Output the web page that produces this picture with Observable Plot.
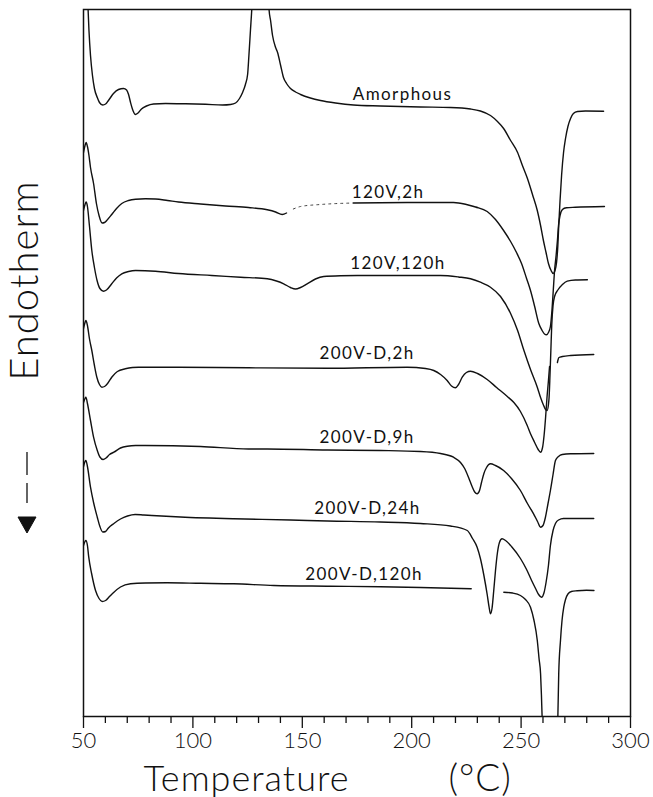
<!DOCTYPE html>
<html>
<head>
<meta charset="utf-8">
<script src="https://cdn.jsdelivr.net/npm/d3@7"></script>
<script src="https://cdn.jsdelivr.net/npm/@observablehq/plot@0.6"></script>
<style>
  html, body { margin: 0; padding: 0; background: #fff; }
  #chart svg { display: block; }
  .curve-label text { letter-spacing: 1.4px; }
  .wide-title text { letter-spacing: 1px; }
</style>
</head>
<body>
<div id="chart"></div>
<script>
// DSC heating scans: [temperature °C, heat flow (arbitrary units, traces offset vertically)]
const amorphous = [[51.6,73.6],[52.1,70.7],[52.5,68.6],[53.2,66.1],[54.1,64.1],[55.0,62.8],[56.3,61.9],[57.3,61.4],[58.8,61.15],[60.1,61.25],[61.4,61.6],[63.7,62.3],[66.0,62.7],[68.3,62.8],[69.7,62.65],[70.6,62.2],[71.5,61.4],[72.6,60.6],[73.7,60.2],[74.9,60.35],[76.5,60.75],[78.8,61.05],[82.0,61.25],[87.5,61.3],[96.6,61.27],[105.8,61.22],[113.6,61.15],[117.2,61.2],[119.5,61.35],[121.3,61.8],[122.7,62.4],[124.0,63.2],[125.0,64.2],[125.6,66.1],[126.3,68.6],[127.0,71.1],[127.5,73.6],[130.9,86.6],[134.3,73.6],[134.8,70.7],[135.5,69.6],[136.4,68.1],[137.8,66.9],[138.7,66.4],[140.1,65.1],[141.4,63.9],[142.8,63.3],[144.6,62.8],[146.9,62.45],[149.2,62.2],[153.7,61.85],[158.3,61.6],[165.2,61.35],[173.4,61.15],[185.7,61.05],[204.0,60.95],[217.7,60.9],[226.9,60.75],[231.4,60.55],[236.0,60.1],[239.2,59.5],[242.0,58.8],[245.2,57.6],[248.4,56.4],[250.6,55.1],[252.9,53.8],[255.2,52.2],[257.4,50.6],[258.9,49.1],[260.2,47.6],[261.4,46.4],[262.5,45.3],[263.7,44.6],[264.7,44.3],[265.5,44.6],[266.2,45.4],[266.8,47.1],[267.2,49.1],[267.8,51.6],[268.5,54.1],[269.4,56.4],[270.3,57.8],[271.4,59.0],[272.6,59.8],[273.9,60.3],[275.8,60.5],[279.4,60.55],[287.7,60.53]];

const v120_2h = [[50.0,56.4],[50.7,57.1],[51.2,57.4],[51.8,57.0],[52.5,56.1],[53.2,54.9],[54.6,53.3],[55.9,51.3],[57.1,50.1],[58.5,49.35],[59.6,49.4],[61.0,49.7],[62.9,50.2],[65.1,50.8],[67.5,51.3],[70.6,51.6],[73.8,51.73],[78.3,51.78],[82.9,51.75],[88.4,51.6],[93.4,51.45],[103.5,51.25],[114.9,51.05],[125.4,50.9],[134.0,50.67],[137.8,50.45],[140.8,50.2],[142.8,50.35],[145.9,50.75],[149.2,51.0],[158.3,51.2],[173.4,51.35],[197.9,51.4],[219.1,51.4],[225.0,51.2],[229.2,50.95],[234.5,50.5],[238.3,49.7],[242.0,48.6],[245.2,47.5],[247.9,46.4],[250.2,45.3],[252.5,43.8],[254.3,42.6],[256.2,41.0],[258.1,39.3],[259.6,38.6],[260.7,38.25],[261.6,38.17],[262.5,38.4],[263.4,39.0],[264.1,40.6],[264.7,42.6],[265.3,44.6],[266.0,46.1],[266.6,47.6],[267.1,49.1],[267.8,50.1],[268.9,50.7],[270.7,50.87],[274.8,50.92],[288.1,51.0]];

const v120_120h = [[50.0,50.6],[50.7,51.2],[51.2,51.45],[51.8,51.0],[52.7,49.1],[53.8,46.6],[55.0,44.9],[56.2,43.6],[57.5,42.8],[59.1,42.53],[60.5,42.65],[62.9,43.27],[65.1,43.85],[67.5,44.27],[70.6,44.5],[73.8,44.6],[82.9,44.53],[93.4,44.3],[108.6,44.1],[121.8,43.93],[134.0,43.77],[138.2,43.55],[141.5,43.27],[144.6,42.9],[146.9,42.75],[149.2,42.9],[152.2,43.27],[156.0,43.75],[159.8,44.0],[167.5,44.08],[175.1,44.1],[194.9,44.1],[213.2,44.1],[221.4,43.95],[226.9,43.77],[231.4,43.43],[236.0,42.93],[240.6,42.0],[245.2,40.3],[248.4,38.6],[251.3,36.6],[254.3,34.7],[257.4,32.93],[258.9,31.9],[260.3,31.1],[261.2,30.7],[261.9,30.6],[262.5,31.2],[262.8,31.93],[263.2,34.1],[263.6,36.6],[264.0,39.1],[264.6,41.1],[265.3,42.0],[266.8,42.65],[268.9,43.2],[271.1,43.53],[274.8,43.65],[280.3,43.67]];

const v200D_2h = [[50.0,38.8],[50.7,39.4],[51.1,39.6],[51.8,39.1],[52.7,37.8],[53.8,36.6],[55.0,35.1],[56.1,33.93],[57.3,33.2],[58.4,32.93],[59.6,33.0],[61.0,33.3],[62.9,33.93],[65.5,34.5],[69.1,34.77],[72.4,34.9],[75.1,34.93],[93.4,34.93],[125.4,34.87],[161.4,34.83],[197.9,34.93],[206.3,34.8],[210.1,34.6],[213.2,34.2],[216.2,33.6],[218.2,33.05],[220.0,32.87],[221.4,33.2],[223.1,33.93],[225.0,34.4],[226.9,34.53],[230.1,34.3],[234.5,33.7],[238.8,32.9],[243.7,32.0],[246.7,31.4],[249.7,30.5],[252.8,29.1],[254.3,28.27],[256.2,27.4],[257.8,26.7],[258.9,26.43],[259.8,26.9],[260.5,28.1],[261.2,29.93],[261.8,31.8],[262.5,33.6],[263.0,35.0],[264.5,null],[266.6,35.4],[266.8,35.6],[267.3,35.9],[268.9,36.0],[272.6,36.1],[283.2,36.2]];

const v200D_9h = [[50.0,31.4],[50.7,31.8],[51.1,31.93],[51.8,31.3],[53.2,29.6],[54.6,27.93],[56.3,26.6],[57.5,25.95],[59.0,25.7],[60.3,25.85],[61.9,26.2],[63.9,26.43],[66.9,26.85],[70.0,27.03],[73.8,27.1],[78.2,27.1],[103.5,27.0],[125.4,26.75],[134.0,26.75],[161.4,26.65],[185.7,26.6],[204.0,26.5],[213.2,26.3],[219.1,25.93],[222.3,25.4],[224.2,24.8],[226.0,23.9],[227.6,23.0],[228.8,22.45],[229.9,22.27],[231.0,22.6],[231.9,23.4],[233.0,24.3],[234.2,24.9],[236.0,25.27],[238.3,25.1],[242.0,24.6],[245.6,23.8],[249.7,22.6],[252.9,21.3],[255.7,20.27],[257.5,19.5],[258.9,18.93],[260.0,19.1],[261.1,19.9],[262.3,21.3],[263.4,22.6],[264.6,24.2],[265.7,25.6],[267.1,26.0],[268.8,26.2],[272.6,26.27],[283.2,26.3]];

const v200D_24h = [[50.0,25.0],[50.7,25.5],[51.1,25.6],[51.8,25.0],[53.2,22.93],[54.6,21.4],[56.3,19.93],[57.5,19.0],[58.8,18.45],[60.1,18.5],[61.4,18.85],[63.9,19.3],[66.9,19.75],[70.1,20.05],[73.6,20.2],[77.6,20.15],[94.3,19.95],[118.7,19.77],[144.6,19.65],[161.4,19.55],[185.7,19.45],[204.0,19.3],[217.7,19.05],[225.4,18.6],[227.8,17.8],[229.9,16.93],[231.4,15.8],[233.0,14.1],[234.5,12.2],[235.4,10.9],[236.0,10.27],[236.7,10.8],[237.5,12.6],[238.3,14.6],[239.2,16.4],[240.1,17.4],[241.3,17.77],[242.9,17.6],[245.6,17.0],[249.7,15.8],[252.5,14.7],[254.8,13.6],[256.6,12.8],[258.0,12.2],[259.3,11.93],[260.5,12.4],[261.4,13.4],[262.5,15.1],[263.4,17.1],[264.6,18.6],[265.7,19.3],[267.1,19.65],[269.4,19.8],[283.2,19.8]];

const v200D_120h = [[50.0,17.1],[50.7,17.5],[51.1,17.6],[51.8,17.1],[52.4,15.93],[53.7,14.3],[55.5,12.6],[57.1,11.8],[58.5,11.5],[60.1,11.6],[61.9,12.0],[63.9,12.43],[66.9,12.95],[71.5,13.27],[78.3,13.35],[88.3,13.37],[103.5,13.32],[118.7,13.27],[137.0,13.1],[162.9,13.03],[185.7,12.97],[204.0,12.9],[227.2,12.77],[235.0,null],[242.1,12.43],[246.1,12.35],[249.7,12.1],[252.0,11.7],[254.3,10.93],[255.9,9.6],[257.4,7.6],[258.2,5.8],[258.9,4.27],[259.3,2.1],[259.6,0],[260.2,-2.4],[263.2,-4.4],[266.2,-2.4],[266.8,0],[267.2,4.3],[268.0,7.6],[268.7,9.6],[269.5,10.93],[270.3,11.7],[271.4,12.25],[273.0,12.5],[275.6,12.57],[279.9,12.62],[283.3,12.6]];

// Trace names and where each name is written
const traceNames  = ["Amorphous", "120V,2h", "120V,120h", "200V-D,2h", "200V-D,9h", "200V-D,24h", "200V-D,120h"];
const traceData   = [amorphous, v120_2h, v120_120h, v200D_2h, v200D_9h, v200D_24h, v200D_120h];
const labelTemp   = [195.8, 189.2, 193.7, 179.6, 179.6, 179.8, 178.2];
const labelSignal = [62.2, 52.4, 45.3, 36.3, 27.9, 20.8, 14.2];

// Pen skipped over this stretch of the 120V,2h trace
const faintSpan = [144.6, 172.0];

// Temperature axis ticks
const majorTicks = [50, 100, 150, 200, 250, 300];
const minorTicks = [60, 70, 80, 90, 110, 120, 130, 140, 160, 170, 180, 190, 210, 220, 230, 240, 260, 270, 280, 290];

const rows = traceData.flatMap((pts, i) =>
  pts.map(([T, q]) => ({name: traceNames[i], T, q}))
);
const isFaint = d => d.name === "120V,2h" && d.T > faintSpan[0] && d.T < faintSpan[1];
const solidRows = rows.map(d => isFaint(d) ? {...d, q: null} : d);
const faintRows = rows.filter(d => d.name === "120V,2h" && d.T >= faintSpan[0] - 1.5 && d.T <= faintSpan[1] + 1.5);

const labels = traceNames.map((name, i) => ({name, T: labelTemp[i], q: labelSignal[i]}));

const titleFont = "Lato, 'Open Sans', 'DejaVu Sans', sans-serif";

const chart = Plot.plot({
  width: 653,
  height: 797,
  marginTop: 9,
  marginRight: 23,
  marginBottom: 81,
  marginLeft: 83,
  style: {background: "#fff", color: "#111", fontFamily: titleFont},
  x: {domain: [50, 300]},
  y: {domain: [0, 70.7], axis: null},
  marks: [
    Plot.line(solidRows, {x: "T", y: "q", z: "name", stroke: "#111", strokeWidth: 1.4, curve: "monotone-x", clip: true}),
    Plot.line(faintRows, {x: "T", y: "q", z: "name", stroke: "#444", strokeWidth: 1.0, strokeDasharray: "2,4", curve: "monotone-x", clip: true}),
    Plot.text(labels, {x: "T", y: "q", text: "name", fontSize: 17, fill: "#111", textAnchor: "middle", lineAnchor: "middle", fontFamily: titleFont, className: "curve-label"}),
    Plot.frame({stroke: "#111", strokeWidth: 1.5}),
    Plot.axisX(minorTicks, {tickSize: 7, tickFormat: () => "", label: null, strokeWidth: 1.3}),
    Plot.axisX(majorTicks, {tickSize: 12, tickPadding: 4, fontSize: 22, label: null, strokeWidth: 1.3, fontFamily: titleFont, fontWeight: 300}),
    Plot.text(["Temperature"], {frameAnchor: "bottom-left", dx: 60, dy: 74, text: d => d, textAnchor: "start", lineAnchor: "bottom", fontSize: 36, fontFamily: titleFont, fontWeight: 300, className: "wide-title"}),
    Plot.text(["(°C)"], {frameAnchor: "bottom-left", dx: 365, dy: 74, text: d => d, textAnchor: "start", lineAnchor: "bottom", fontSize: 37, fontFamily: titleFont, fontWeight: 300, className: "wide-title"}),
    Plot.text(["Endotherm"], {frameAnchor: "top-left", dx: -58, dy: 271, rotate: -90, text: d => d, textAnchor: "middle", lineAnchor: "middle", fontSize: 40, fontFamily: titleFont, fontWeight: 300, className: "wide-title"})
  ]
});

// Downward arrow under the "Endotherm" label
const svg = d3.select(chart);
const arrow = svg.append("g").attr("stroke", "#111").attr("fill", "#111");
arrow.append("line").attr("x1", 27).attr("x2", 27).attr("y1", 452).attr("y2", 475).attr("stroke-width", 1.3);
arrow.append("line").attr("x1", 27).attr("x2", 27).attr("y1", 483).attr("y2", 503).attr("stroke-width", 1.3);
arrow.append("path").attr("d", "M18,517 L36,517 L27,533 Z").attr("stroke-width", 1);

document.getElementById("chart").appendChild(chart);
</script>
</body>
</html>
